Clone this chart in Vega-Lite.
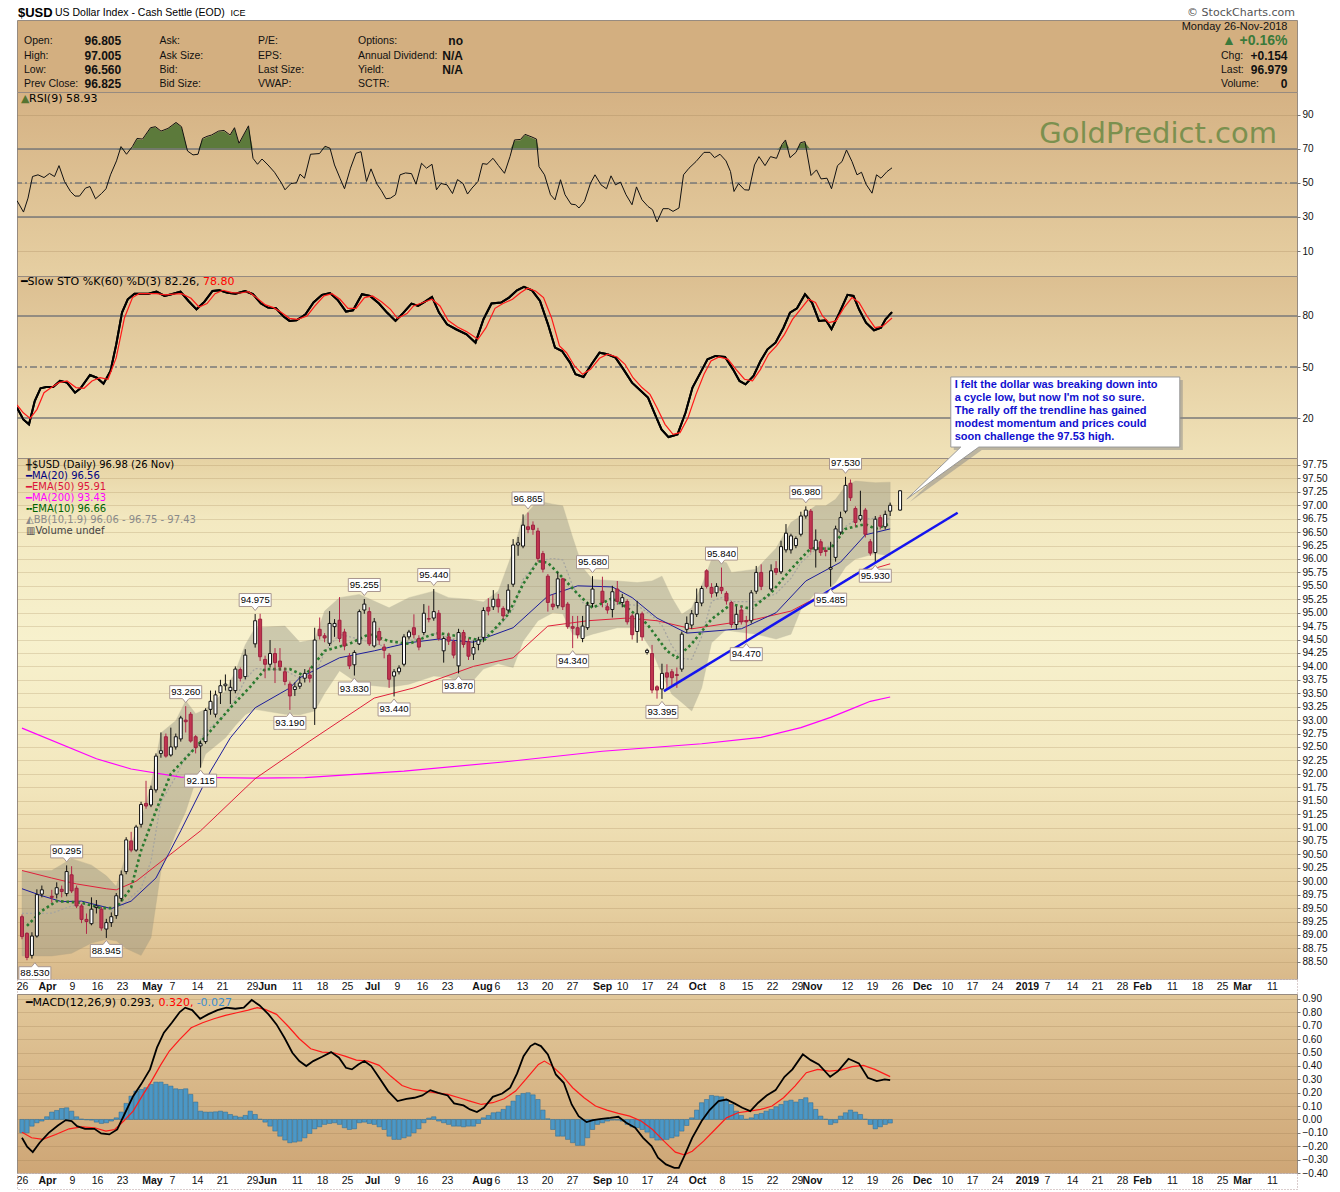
{
  "$schema": "https://vega.github.io/schema/vega-lite/v6.json",
  "background": "white",
  "padding": {"left": 15, "top": 6, "right": 10, "bottom": 2},
  "bounds": "flush",
  "spacing": 0,
  "resolve": {"scale": {"color": "independent"}},
  "config": {
    "view": {"stroke": "#978b80", "strokeWidth": 1},
    "text": {"font": "DejaVu Sans"},
    "axis": {"title": null, "labelFont": "Liberation Sans", "labelFontSize": 10, "labelColor": "#111111"}
  },
  "datasets": {
    "hdr": [
      {"t": -0.8, "row": -1, "text": "$USD", "k": "sym"},
      {"t": 6.6, "row": -1, "text": "US Dollar Index - Cash Settle (EOD)", "k": "name"},
      {"t": 41.7, "row": -1, "text": "ICE", "k": "ex"},
      {"t": 254.6, "row": -1, "text": "© StockCharts.com", "k": "src"},
      {"t": 0.4, "row": 1, "text": "Open:", "k": "lab"},
      {"t": 0.4, "row": 2, "text": "High:", "k": "lab"},
      {"t": 0.4, "row": 3, "text": "Low:", "k": "lab"},
      {"t": 0.4, "row": 4, "text": "Prev Close:", "k": "lab"},
      {"t": 12.5, "row": 1, "text": "96.805", "k": "val"},
      {"t": 12.5, "row": 2, "text": "97.005", "k": "val"},
      {"t": 12.5, "row": 3, "text": "96.560", "k": "val"},
      {"t": 12.5, "row": 4, "text": "96.825", "k": "val"},
      {"t": 27.5, "row": 1, "text": "Ask:", "k": "lab"},
      {"t": 27.5, "row": 2, "text": "Ask Size:", "k": "lab"},
      {"t": 27.5, "row": 3, "text": "Bid:", "k": "lab"},
      {"t": 27.5, "row": 4, "text": "Bid Size:", "k": "lab"},
      {"t": 47.2, "row": 1, "text": "P/E:", "k": "lab"},
      {"t": 47.2, "row": 2, "text": "EPS:", "k": "lab"},
      {"t": 47.2, "row": 3, "text": "Last Size:", "k": "lab"},
      {"t": 47.2, "row": 4, "text": "VWAP:", "k": "lab"},
      {"t": 67.2, "row": 1, "text": "Options:", "k": "lab"},
      {"t": 67.2, "row": 2, "text": "Annual Dividend:", "k": "lab"},
      {"t": 67.2, "row": 3, "text": "Yield:", "k": "lab"},
      {"t": 67.2, "row": 4, "text": "SCTR:", "k": "lab"},
      {"t": 88.2, "row": 1, "text": "no", "k": "rval"},
      {"t": 88.2, "row": 2, "text": "N/A", "k": "rval"},
      {"t": 88.2, "row": 3, "text": "N/A", "k": "rval"},
      {"t": 253.1, "row": 0, "text": "Monday  26-Nov-2018", "k": "rlab"},
      {"t": 253.1, "row": 1, "text": "▲ +0.16%", "k": "chg"},
      {"t": 239.8, "row": 2, "text": "Chg:", "k": "lab"},
      {"t": 239.8, "row": 3, "text": "Last:", "k": "lab"},
      {"t": 239.8, "row": 4, "text": "Volume:", "k": "lab"},
      {"t": 253.1, "row": 2, "text": "+0.154", "k": "rval"},
      {"t": 253.1, "row": 3, "text": "96.979", "k": "rval"},
      {"t": 253.1, "row": 4, "text": "0", "k": "rval"}
    ],
    "plab": [
      {"panel": "rsi", "t": -0.2, "v": 99.4, "text": "▲", "s": "icon"},
      {"panel": "rsi", "t": 1.4, "v": 99.4, "text": "RSI(9) 58.93", "s": "black"},
      {"panel": "sto", "t": -0.2, "v": 100, "text": "━Slow STO %K(60) %D(3) 82.26,", "s": "black"},
      {"panel": "sto", "t": 36.2, "v": 100, "text": "78.80", "s": "red"},
      {"panel": "macd", "t": -0.2, "v": 0.873, "text": "━MACD(12,26,9) 0.293,", "s": "black"},
      {"panel": "macd", "t": 26.5, "v": 0.873, "text": "0.320,", "s": "red"},
      {"panel": "macd", "t": 34.2, "v": 0.873, "text": "-0.027", "s": "blue"}
    ],
    "wm": [{"t": 251, "v": 78.8, "text": "GoldPredict.com"}],
    "rsiLev": [{"v": 70, "s": "solid"}, {"v": 30, "s": "solid"}, {"v": 50, "s": "dash"}],
    "stoLev": [{"v": 80, "s": "solid"}, {"v": 20, "s": "solid"}, {"v": 50, "s": "dash"}],
    "rsi": [
      {"t":-1,"v":39.6},{"t":0.3,"v":32.9},{"t":1.2,"v":41.1},{"t":2.1,"v":53.8},{"t":3.2,"v":54.8},{"t":4.4,"v":53.2},{"t":5.5,"v":55.6},{"t":6.5,"v":53.8},{"t":7.4,"v":60.2},{"t":8.5,"v":50.9},{"t":9.7,"v":45.0},{"t":10.6,"v":42.3},{"t":11.5,"v":42.3},{"t":12.7,"v":47.0},{"t":13.6,"v":47.9},{"t":14.7,"v":40.7},{"t":15.9,"v":43.8},{"t":16.8,"v":46.6},{"t":17.7,"v":54.8},{"t":18.9,"v":63.0},{"t":19.8,"v":71.4},{"t":20.9,"v":66.9},{"t":22.1,"v":71.5},{"t":23.0,"v":76.2},{"t":24.1,"v":75.8},{"t":25.7,"v":82.5},{"t":26.7,"v":83.1},{"t":27.8,"v":80.5},{"t":29.2,"v":82.1},{"t":30.8,"v":85.6},{"t":31.9,"v":83.1},{"t":33.1,"v":68.8},{"t":34.2,"v":66.5},{"t":35.2,"v":66.9},{"t":36.1,"v":76.2},{"t":37.0,"v":77.4},{"t":37.9,"v":78.2},{"t":39.3,"v":80.5},{"t":40.4,"v":80.9},{"t":41.6,"v":78.2},{"t":42.5,"v":82.5},{"t":43.4,"v":73.3},{"t":44.3,"v":78.2},{"t":45.3,"v":83.6},{"t":46.2,"v":64.5},{"t":47.1,"v":61.0},{"t":48.0,"v":64.1},{"t":49.2,"v":60.6},{"t":50.5,"v":56.3},{"t":51.9,"v":49.9},{"t":52.6,"v":46.0},{"t":53.8,"v":49.7},{"t":54.9,"v":50.1},{"t":55.6,"v":55.2},{"t":56.5,"v":52.8},{"t":57.7,"v":66.9},{"t":59.5,"v":67.3},{"t":60.6,"v":71.6},{"t":61.6,"v":70.4},{"t":62.5,"v":60.6},{"t":63.6,"v":52.8},{"t":64.5,"v":46.6},{"t":65.7,"v":58.7},{"t":66.8,"v":67.5},{"t":67.8,"v":68.4},{"t":68.9,"v":50.9},{"t":69.8,"v":58.3},{"t":71.0,"v":49.3},{"t":71.9,"v":45.4},{"t":72.8,"v":40.7},{"t":73.7,"v":41.1},{"t":74.7,"v":43.1},{"t":75.6,"v":54.8},{"t":76.7,"v":55.9},{"t":77.9,"v":55.5},{"t":78.8,"v":49.3},{"t":79.9,"v":61.6},{"t":80.9,"v":58.7},{"t":82.0,"v":61.0},{"t":82.9,"v":46.0},{"t":83.8,"v":49.7},{"t":85.0,"v":48.9},{"t":86.1,"v":43.8},{"t":87.1,"v":52.0},{"t":88.2,"v":49.7},{"t":89.1,"v":43.5},{"t":90.0,"v":47.0},{"t":91.2,"v":50.9},{"t":92.1,"v":61.4},{"t":93.0,"v":61.0},{"t":94.2,"v":64.5},{"t":95.3,"v":60.2},{"t":96.5,"v":55.7},{"t":97.6,"v":65.5},{"t":98.5,"v":75.3},{"t":99.7,"v":75.6},{"t":100.6,"v":78.6},{"t":102.0,"v":77.0},{"t":102.9,"v":75.8},{"t":103.4,"v":59.6},{"t":104.5,"v":54.8},{"t":105.7,"v":43.1},{"t":106.6,"v":40.1},{"t":107.7,"v":51.9},{"t":108.6,"v":43.1},{"t":109.8,"v":37.6},{"t":110.7,"v":37.2},{"t":111.4,"v":35.3},{"t":112.5,"v":39.2},{"t":113.7,"v":49.9},{"t":114.6,"v":54.8},{"t":115.8,"v":48.9},{"t":116.9,"v":46.6},{"t":117.8,"v":54.2},{"t":118.7,"v":48.9},{"t":119.7,"v":50.5},{"t":120.8,"v":43.1},{"t":122.0,"v":37.2},{"t":122.9,"v":47.7},{"t":124.0,"v":40.1},{"t":125.2,"v":36.2},{"t":126.1,"v":34.3},{"t":127.0,"v":27.1},{"t":128.2,"v":34.9},{"t":129.3,"v":34.9},{"t":130.2,"v":33.3},{"t":131.4,"v":35.3},{"t":132.3,"v":54.8},{"t":133.4,"v":58.7},{"t":134.8,"v":62.6},{"t":136.4,"v":68.0},{"t":137.6,"v":68.0},{"t":138.5,"v":64.9},{"t":139.6,"v":66.9},{"t":140.8,"v":63.0},{"t":141.7,"v":56.7},{"t":142.4,"v":45.0},{"t":143.3,"v":49.7},{"t":144.5,"v":46.0},{"t":145.4,"v":45.8},{"t":146.5,"v":60.6},{"t":147.4,"v":65.5},{"t":148.6,"v":60.2},{"t":149.7,"v":65.5},{"t":150.9,"v":64.5},{"t":152.0,"v":72.7},{"t":152.7,"v":75.3},{"t":153.6,"v":64.9},{"t":154.8,"v":68.0},{"t":155.7,"v":73.7},{"t":156.6,"v":74.3},{"t":157.8,"v":54.4},{"t":158.9,"v":57.7},{"t":159.8,"v":52.4},{"t":161.0,"v":52.8},{"t":161.9,"v":46.6},{"t":163.1,"v":60.2},{"t":164.0,"v":62.6},{"t":164.9,"v":69.4},{"t":166.0,"v":62.6},{"t":167.0,"v":54.8},{"t":167.9,"v":56.3},{"t":168.8,"v":49.3},{"t":170.0,"v":44.0},{"t":170.9,"v":54.8},{"t":171.8,"v":52.8},{"t":173.0,"v":56.7},{"t":174.0,"v":58.9}
    ],
    "stoK": [
      {"t":-1,"v":26.1},{"t":0.26,"v":19.2},{"t":1.4,"v":16.3},{"t":2.55,"v":30.0},{"t":3.7,"v":37.5},{"t":4.85,"v":38.2},{"t":6.23,"v":38.2},{"t":7.6,"v":41.8},{"t":9.0,"v":40.8},{"t":10.6,"v":34.9},{"t":11.7,"v":37.5},{"t":13.6,"v":45.3},{"t":14.95,"v":43.7},{"t":16.3,"v":40.2},{"t":17.7,"v":47.7},{"t":18.85,"v":63.3},{"t":20.0,"v":82.0},{"t":21.15,"v":89.8},{"t":22.5,"v":93.1},{"t":23.9,"v":93.1},{"t":25.3,"v":93.1},{"t":26.9,"v":94.3},{"t":28.5,"v":91.8},{"t":29.9,"v":92.8},{"t":31.7,"v":94.3},{"t":33.3,"v":88.8},{"t":34.9,"v":83.9},{"t":36.5,"v":88.4},{"t":38.1,"v":94.7},{"t":39.5,"v":95.1},{"t":41.1,"v":93.7},{"t":42.7,"v":93.1},{"t":44.6,"v":94.7},{"t":46.2,"v":92.8},{"t":47.8,"v":87.3},{"t":49.2,"v":84.9},{"t":50.8,"v":84.5},{"t":52.2,"v":80.0},{"t":53.5,"v":77.1},{"t":54.9,"v":77.5},{"t":56.7,"v":81.0},{"t":58.3,"v":87.9},{"t":60.0,"v":92.4},{"t":61.6,"v":93.5},{"t":63.2,"v":89.2},{"t":64.8,"v":82.6},{"t":66.2,"v":83.3},{"t":68.0,"v":92.8},{"t":69.6,"v":91.8},{"t":71.4,"v":87.3},{"t":73.0,"v":82.0},{"t":74.7,"v":77.1},{"t":76.3,"v":82.0},{"t":77.9,"v":87.3},{"t":79.2,"v":85.9},{"t":80.6,"v":88.4},{"t":82.0,"v":91.2},{"t":83.4,"v":82.0},{"t":85.0,"v":75.1},{"t":86.8,"v":72.2},{"t":88.9,"v":69.2},{"t":90.7,"v":64.3},{"t":92.3,"v":78.1},{"t":93.9,"v":87.3},{"t":95.8,"v":87.9},{"t":97.4,"v":90.8},{"t":99.0,"v":95.1},{"t":100.4,"v":97.1},{"t":102.0,"v":95.1},{"t":103.6,"v":88.8},{"t":105.2,"v":75.1},{"t":106.6,"v":61.4},{"t":108.0,"v":59.4},{"t":109.6,"v":52.6},{"t":110.7,"v":45.7},{"t":112.3,"v":44.1},{"t":113.9,"v":51.6},{"t":115.5,"v":58.4},{"t":117.1,"v":57.5},{"t":118.7,"v":55.5},{"t":120.3,"v":48.6},{"t":122.0,"v":40.8},{"t":123.8,"v":35.9},{"t":125.2,"v":32.0},{"t":126.6,"v":22.2},{"t":127.9,"v":13.3},{"t":129.3,"v":8.8},{"t":131.1,"v":10.4},{"t":132.7,"v":23.1},{"t":134.1,"v":37.9},{"t":135.7,"v":46.7},{"t":137.1,"v":54.5},{"t":138.7,"v":56.5},{"t":140.6,"v":55.9},{"t":142.2,"v":48.6},{"t":143.5,"v":41.8},{"t":144.7,"v":39.8},{"t":146.3,"v":44.7},{"t":147.7,"v":53.5},{"t":149.1,"v":60.4},{"t":150.7,"v":64.3},{"t":152.3,"v":73.1},{"t":153.6,"v":82.0},{"t":155.0,"v":84.5},{"t":156.6,"v":92.8},{"t":158.0,"v":87.9},{"t":159.4,"v":77.1},{"t":160.8,"v":77.5},{"t":161.9,"v":72.2},{"t":163.5,"v":82.0},{"t":165.1,"v":92.4},{"t":166.3,"v":91.8},{"t":167.4,"v":83.9},{"t":168.8,"v":76.1},{"t":170.4,"v":71.6},{"t":171.8,"v":73.1},{"t":172.7,"v":78.0},{"t":174.0,"v":82.3}
    ],
    "stoD": [
      {"t":-1,"v":27.7},{"t":0.26,"v":23.1},{"t":1.63,"v":19.8},{"t":3.0,"v":25.1},{"t":4.4,"v":34.9},{"t":6.0,"v":38.2},{"t":7.4,"v":40.8},{"t":9.0,"v":41.8},{"t":10.8,"v":37.9},{"t":12.4,"v":37.5},{"t":14.0,"v":41.8},{"t":15.6,"v":43.7},{"t":17.2,"v":42.8},{"t":18.85,"v":55.5},{"t":20.5,"v":79.0},{"t":22.1,"v":90.8},{"t":23.4,"v":93.1},{"t":25.3,"v":93.1},{"t":26.9,"v":93.1},{"t":28.7,"v":92.4},{"t":30.3,"v":92.8},{"t":31.9,"v":93.1},{"t":33.8,"v":90.4},{"t":35.4,"v":85.3},{"t":37.0,"v":87.3},{"t":38.6,"v":93.1},{"t":40.2,"v":95.1},{"t":42.0,"v":93.7},{"t":43.7,"v":93.5},{"t":45.3,"v":94.3},{"t":46.9,"v":90.8},{"t":48.7,"v":86.5},{"t":50.3,"v":84.9},{"t":51.9,"v":82.0},{"t":53.5,"v":78.6},{"t":55.1,"v":78.0},{"t":57.0,"v":80.0},{"t":58.6,"v":85.9},{"t":60.4,"v":91.8},{"t":62.0,"v":93.1},{"t":63.6,"v":89.8},{"t":65.2,"v":84.5},{"t":66.8,"v":84.5},{"t":68.5,"v":90.8},{"t":70.1,"v":91.8},{"t":71.9,"v":88.4},{"t":73.7,"v":83.9},{"t":75.1,"v":78.6},{"t":77.0,"v":81.4},{"t":78.3,"v":85.9},{"t":80.2,"v":87.9},{"t":82.0,"v":89.8},{"t":83.6,"v":85.9},{"t":85.2,"v":77.5},{"t":87.1,"v":73.5},{"t":88.9,"v":70.8},{"t":91.2,"v":66.3},{"t":92.8,"v":73.1},{"t":94.6,"v":84.5},{"t":96.2,"v":87.3},{"t":98.1,"v":89.8},{"t":99.7,"v":93.7},{"t":101.1,"v":96.3},{"t":102.7,"v":94.7},{"t":104.3,"v":90.8},{"t":105.9,"v":79.0},{"t":107.5,"v":62.4},{"t":108.9,"v":58.4},{"t":110.5,"v":50.6},{"t":112.1,"v":45.7},{"t":113.7,"v":48.6},{"t":115.5,"v":55.1},{"t":117.1,"v":57.5},{"t":119.0,"v":55.9},{"t":120.6,"v":51.6},{"t":122.2,"v":43.7},{"t":124.0,"v":37.9},{"t":125.6,"v":33.9},{"t":127.0,"v":26.1},{"t":128.6,"v":16.3},{"t":130.2,"v":10.4},{"t":131.6,"v":11.4},{"t":133.2,"v":20.2},{"t":134.8,"v":33.9},{"t":136.4,"v":45.7},{"t":137.8,"v":53.5},{"t":139.4,"v":55.9},{"t":141.2,"v":54.5},{"t":142.8,"v":48.6},{"t":144.5,"v":42.8},{"t":146.1,"v":41.8},{"t":147.7,"v":48.6},{"t":149.3,"v":57.5},{"t":150.9,"v":62.4},{"t":152.5,"v":69.2},{"t":154.1,"v":78.0},{"t":155.7,"v":83.9},{"t":157.3,"v":89.8},{"t":158.7,"v":87.9},{"t":160.1,"v":80.0},{"t":161.4,"v":76.1},{"t":162.8,"v":77.1},{"t":164.4,"v":84.9},{"t":166.0,"v":90.8},{"t":167.4,"v":87.9},{"t":169.0,"v":80.0},{"t":170.6,"v":73.1},{"t":172.2,"v":74.1},{"t":174.0,"v":78.8}
    ],
    "macd": [
      {"t":-1,"v":-0.137},{"t":0.03,"v":-0.204},{"t":1.17,"v":-0.244},{"t":2.55,"v":-0.174},{"t":4.39,"v":-0.100},{"t":6.23,"v":-0.045},{"t":7.83,"v":-0.005},{"t":9.0,"v":-0.012},{"t":10.1,"v":-0.050},{"t":11.7,"v":-0.070},{"t":13.6,"v":-0.070},{"t":14.95,"v":-0.105},{"t":16.6,"v":-0.112},{"t":18.2,"v":-0.075},{"t":19.8,"v":0.050},{"t":21.4,"v":0.174},{"t":23.0,"v":0.262},{"t":24.8,"v":0.374},{"t":26.2,"v":0.536},{"t":27.6,"v":0.648},{"t":29.2,"v":0.722},{"t":30.8,"v":0.802},{"t":31.9,"v":0.835},{"t":33.3,"v":0.817},{"t":34.9,"v":0.752},{"t":36.5,"v":0.785},{"t":38.4,"v":0.817},{"t":40.2,"v":0.835},{"t":42.0,"v":0.827},{"t":43.7,"v":0.835},{"t":45.3,"v":0.892},{"t":46.9,"v":0.852},{"t":48.7,"v":0.785},{"t":50.3,"v":0.710},{"t":51.9,"v":0.610},{"t":53.5,"v":0.498},{"t":54.9,"v":0.436},{"t":56.3,"v":0.399},{"t":57.7,"v":0.436},{"t":59.5,"v":0.468},{"t":61.3,"v":0.503},{"t":62.9,"v":0.461},{"t":64.3,"v":0.386},{"t":65.5,"v":0.374},{"t":66.8,"v":0.411},{"t":68.0,"v":0.436},{"t":69.4,"v":0.399},{"t":71.0,"v":0.311},{"t":72.8,"v":0.212},{"t":74.7,"v":0.137},{"t":76.5,"v":0.154},{"t":78.1,"v":0.162},{"t":79.7,"v":0.179},{"t":81.3,"v":0.219},{"t":82.9,"v":0.199},{"t":84.8,"v":0.179},{"t":86.1,"v":0.120},{"t":88.0,"v":0.105},{"t":89.3,"v":0.075},{"t":90.7,"v":0.055},{"t":92.1,"v":0.087},{"t":93.9,"v":0.169},{"t":95.8,"v":0.194},{"t":97.4,"v":0.237},{"t":98.8,"v":0.344},{"t":100.1,"v":0.473},{"t":101.5,"v":0.548},{"t":102.4,"v":0.568},{"t":103.6,"v":0.548},{"t":105.0,"v":0.486},{"t":106.6,"v":0.336},{"t":108.2,"v":0.274},{"t":109.8,"v":0.112},{"t":111.2,"v":0.025},{"t":112.8,"v":-0.020},{"t":114.1,"v":-0.005},{"t":115.8,"v":0.005},{"t":117.6,"v":0.012},{"t":119.2,"v":0.020},{"t":120.8,"v":-0.025},{"t":122.6,"v":-0.062},{"t":124.2,"v":-0.137},{"t":125.9,"v":-0.199},{"t":127.2,"v":-0.286},{"t":128.8,"v":-0.336},{"t":130.5,"v":-0.361},{"t":131.4,"v":-0.361},{"t":132.5,"v":-0.274},{"t":134.1,"v":-0.137},{"t":136.0,"v":-0.012},{"t":137.6,"v":0.070},{"t":139.4,"v":0.137},{"t":141.0,"v":0.149},{"t":142.6,"v":0.120},{"t":144.2,"v":0.087},{"t":145.8,"v":0.062},{"t":147.4,"v":0.125},{"t":149.1,"v":0.179},{"t":150.9,"v":0.219},{"t":152.7,"v":0.319},{"t":154.3,"v":0.374},{"t":156.4,"v":0.486},{"t":158.0,"v":0.443},{"t":159.6,"v":0.411},{"t":161.9,"v":0.319},{"t":163.5,"v":0.361},{"t":165.6,"v":0.453},{"t":167.7,"v":0.419},{"t":169.5,"v":0.311},{"t":171.3,"v":0.286},{"t":172.9,"v":0.299},{"t":174.0,"v":0.293}
    ],
    "sig": [
      {"t":-1,"v":-0.095},{"t":0.94,"v":-0.137},{"t":3.2,"v":-0.149},{"t":5.8,"v":-0.112},{"t":8.5,"v":-0.070},{"t":11.05,"v":-0.055},{"t":13.6,"v":-0.062},{"t":15.9,"v":-0.087},{"t":17.7,"v":-0.075},{"t":19.5,"v":-0.012},{"t":21.4,"v":0.062},{"t":23.2,"v":0.174},{"t":25.1,"v":0.286},{"t":26.9,"v":0.404},{"t":28.7,"v":0.511},{"t":30.8,"v":0.598},{"t":33.1,"v":0.685},{"t":35.4,"v":0.722},{"t":37.7,"v":0.752},{"t":40.0,"v":0.777},{"t":42.3,"v":0.797},{"t":44.6,"v":0.817},{"t":46.4,"v":0.835},{"t":48.0,"v":0.822},{"t":50.3,"v":0.785},{"t":52.6,"v":0.698},{"t":54.9,"v":0.603},{"t":57.2,"v":0.528},{"t":59.5,"v":0.503},{"t":61.8,"v":0.498},{"t":64.1,"v":0.473},{"t":66.4,"v":0.443},{"t":68.7,"v":0.436},{"t":71.0,"v":0.404},{"t":73.3,"v":0.324},{"t":75.6,"v":0.254},{"t":77.9,"v":0.224},{"t":80.2,"v":0.212},{"t":82.5,"v":0.199},{"t":84.8,"v":0.187},{"t":87.1,"v":0.162},{"t":89.3,"v":0.137},{"t":91.6,"v":0.112},{"t":93.9,"v":0.125},{"t":96.2,"v":0.154},{"t":98.5,"v":0.212},{"t":100.8,"v":0.311},{"t":103.1,"v":0.411},{"t":104.3,"v":0.436},{"t":105.7,"v":0.404},{"t":107.7,"v":0.336},{"t":110.0,"v":0.237},{"t":112.3,"v":0.162},{"t":114.6,"v":0.100},{"t":116.9,"v":0.070},{"t":119.2,"v":0.045},{"t":121.5,"v":0.025},{"t":123.8,"v":-0.012},{"t":126.1,"v":-0.075},{"t":128.4,"v":-0.162},{"t":130.7,"v":-0.244},{"t":132.5,"v":-0.264},{"t":134.1,"v":-0.237},{"t":136.4,"v":-0.162},{"t":138.7,"v":-0.075},{"t":141.0,"v":0.012},{"t":143.3,"v":0.050},{"t":145.6,"v":0.062},{"t":147.9,"v":0.075},{"t":150.2,"v":0.100},{"t":152.5,"v":0.162},{"t":154.8,"v":0.249},{"t":157.1,"v":0.349},{"t":159.4,"v":0.374},{"t":161.7,"v":0.361},{"t":164.0,"v":0.369},{"t":166.3,"v":0.394},{"t":168.6,"v":0.404},{"t":170.9,"v":0.374},{"t":174.0,"v":0.320}
    ],
    "hist": [
      {"t":-1,"v":-0.100},{"t":0,"v":-0.100},{"t":1,"v":-0.050},{"t":2,"v":-0.025},{"t":3,"v":-0.012},{"t":4,"v":0.020},{"t":5,"v":0.055},{"t":6,"v":0.067},{"t":7,"v":0.082},{"t":8,"v":0.087},{"t":9,"v":0.062},{"t":10,"v":0.020},{"t":11,"v":0.003},{"t":12,"v":-0.003},{"t":13,"v":-0.005},{"t":14,"v":-0.020},{"t":15,"v":-0.030},{"t":16,"v":-0.025},{"t":17,"v":-0.012},{"t":18,"v":0.012},{"t":19,"v":0.055},{"t":20,"v":0.120},{"t":21,"v":0.174},{"t":22,"v":0.212},{"t":23,"v":0.224},{"t":24,"v":0.237},{"t":25,"v":0.262},{"t":26,"v":0.279},{"t":27,"v":0.279},{"t":28,"v":0.262},{"t":29,"v":0.249},{"t":30,"v":0.229},{"t":31,"v":0.224},{"t":32,"v":0.229},{"t":33,"v":0.187},{"t":34,"v":0.130},{"t":35,"v":0.062},{"t":36,"v":0.055},{"t":37,"v":0.055},{"t":38,"v":0.057},{"t":39,"v":0.062},{"t":40,"v":0.055},{"t":41,"v":0.037},{"t":42,"v":0.025},{"t":43,"v":0.017},{"t":44,"v":0.030},{"t":45,"v":0.062},{"t":46,"v":0.037},{"t":47,"v":0.002},{"t":48,"v":-0.020},{"t":49,"v":-0.050},{"t":50,"v":-0.087},{"t":51,"v":-0.125},{"t":52,"v":-0.154},{"t":53,"v":-0.174},{"t":54,"v":-0.169},{"t":55,"v":-0.162},{"t":56,"v":-0.137},{"t":57,"v":-0.105},{"t":58,"v":-0.070},{"t":59,"v":-0.055},{"t":60,"v":-0.037},{"t":61,"v":-0.030},{"t":62,"v":-0.025},{"t":63,"v":-0.037},{"t":64,"v":-0.062},{"t":65,"v":-0.075},{"t":66,"v":-0.070},{"t":67,"v":-0.025},{"t":68,"v":-0.020},{"t":69,"v":-0.030},{"t":70,"v":-0.037},{"t":71,"v":-0.055},{"t":72,"v":-0.075},{"t":73,"v":-0.125},{"t":74,"v":-0.149},{"t":75,"v":-0.149},{"t":76,"v":-0.137},{"t":77,"v":-0.125},{"t":78,"v":-0.100},{"t":79,"v":-0.070},{"t":80,"v":-0.025},{"t":81,"v":0.010},{"t":82,"v":0.020},{"t":83,"v":-0.012},{"t":84,"v":-0.025},{"t":85,"v":-0.037},{"t":86,"v":-0.050},{"t":87,"v":-0.050},{"t":88,"v":-0.055},{"t":89,"v":-0.050},{"t":90,"v":-0.050},{"t":91,"v":-0.030},{"t":92,"v":0.012},{"t":93,"v":0.030},{"t":94,"v":0.050},{"t":95,"v":0.055},{"t":96,"v":0.075},{"t":97,"v":0.100},{"t":98,"v":0.137},{"t":99,"v":0.179},{"t":100,"v":0.194},{"t":101,"v":0.199},{"t":102,"v":0.184},{"t":103,"v":0.149},{"t":104,"v":0.070},{"t":105,"v":0.005},{"t":106,"v":-0.075},{"t":107,"v":-0.125},{"t":108,"v":-0.125},{"t":109,"v":-0.149},{"t":110,"v":-0.174},{"t":111,"v":-0.194},{"t":112,"v":-0.194},{"t":113,"v":-0.137},{"t":114,"v":-0.075},{"t":115,"v":-0.037},{"t":116,"v":-0.025},{"t":117,"v":-0.012},{"t":118,"v":-0.005},{"t":119,"v":-0.005},{"t":120,"v":-0.012},{"t":121,"v":-0.037},{"t":122,"v":-0.055},{"t":123,"v":-0.062},{"t":124,"v":-0.075},{"t":125,"v":-0.095},{"t":126,"v":-0.137},{"t":127,"v":-0.154},{"t":128,"v":-0.154},{"t":129,"v":-0.149},{"t":130,"v":-0.137},{"t":131,"v":-0.125},{"t":132,"v":-0.087},{"t":133,"v":-0.045},{"t":134,"v":0.012},{"t":135,"v":0.070},{"t":136,"v":0.125},{"t":137,"v":0.149},{"t":138,"v":0.179},{"t":139,"v":0.174},{"t":140,"v":0.169},{"t":141,"v":0.149},{"t":142,"v":0.112},{"t":143,"v":0.062},{"t":144,"v":0.030},{"t":145,"v":0.002},{"t":146,"v":0.012},{"t":147,"v":0.037},{"t":148,"v":0.045},{"t":149,"v":0.062},{"t":150,"v":0.075},{"t":151,"v":0.095},{"t":152,"v":0.112},{"t":153,"v":0.137},{"t":154,"v":0.144},{"t":155,"v":0.130},{"t":156,"v":0.149},{"t":157,"v":0.162},{"t":158,"v":0.125},{"t":159,"v":0.075},{"t":160,"v":0.025},{"t":161,"v":0.002},{"t":162,"v":-0.037},{"t":163,"v":-0.025},{"t":164,"v":0.025},{"t":165,"v":0.050},{"t":166,"v":0.070},{"t":167,"v":0.055},{"t":168,"v":0.037},{"t":169,"v":0.002},{"t":170,"v":-0.037},{"t":171,"v":-0.070},{"t":172,"v":-0.055},{"t":173,"v":-0.037},{"t":174,"v":-0.027}
    ],
    "px": [
      {"t":-1,"o":89.34,"h":89.38,"l":88.92,"c":88.97},{"t":0,"o":89.03,"h":89.05,"l":88.53,"c":88.58},{"t":1,"o":88.62,"h":89.05,"l":88.56,"c":88.98},{"t":2,"o":88.98,"h":89.85,"l":88.95,"c":89.75},{"t":3,"o":89.76,"h":89.92,"l":89.70,"c":89.84},
      {"t":5,"o":89.72,"h":89.84,"l":89.60,"c":89.70},{"t":6,"o":89.76,"h":89.98,"l":89.68,"c":89.88},{"t":7,"o":89.85,"h":89.92,"l":89.70,"c":89.81},{"t":8,"o":89.77,"h":90.295,"l":89.72,"c":90.18},{"t":9,"o":90.12,"h":90.28,"l":89.78,"c":89.82},
      {"t":10,"o":89.87,"h":89.92,"l":89.50,"c":89.54},{"t":11,"o":89.54,"h":89.58,"l":89.22,"c":89.29},{"t":12,"o":89.29,"h":89.40,"l":89.02,"c":89.25},{"t":13,"o":89.21,"h":89.70,"l":89.18,"c":89.48},{"t":14,"o":89.51,"h":89.65,"l":89.40,"c":89.54},
      {"t":15,"o":89.48,"h":89.52,"l":89.08,"c":89.13},{"t":16,"o":89.11,"h":89.30,"l":88.945,"c":89.23},{"t":17,"o":89.23,"h":89.42,"l":89.15,"c":89.34},{"t":18,"o":89.36,"h":89.78,"l":89.30,"c":89.73},{"t":19,"o":89.68,"h":90.20,"l":89.62,"c":90.12},
      {"t":20,"o":90.18,"h":90.82,"l":90.13,"c":90.77},{"t":21,"o":90.75,"h":90.92,"l":90.54,"c":90.58},{"t":22,"o":90.58,"h":91.05,"l":90.55,"c":91.01},{"t":23,"o":91.06,"h":91.48,"l":91.00,"c":91.43},{"t":24,"o":91.45,"h":91.87,"l":91.35,"c":91.40},
      {"t":25,"o":91.42,"h":91.78,"l":91.38,"c":91.71},{"t":26,"o":91.70,"h":92.38,"l":91.65,"c":92.33},{"t":27,"o":92.38,"h":92.77,"l":92.30,"c":92.43},{"t":28,"o":92.69,"h":92.75,"l":92.30,"c":92.33},{"t":29,"o":92.35,"h":92.86,"l":92.32,"c":92.50},
      {"t":30,"o":92.50,"h":92.75,"l":92.45,"c":92.69},{"t":31,"o":92.65,"h":93.08,"l":92.60,"c":93.04},{"t":32,"o":93.00,"h":93.26,"l":92.77,"c":92.97},{"t":33,"o":93.11,"h":93.15,"l":92.58,"c":92.61},{"t":34,"o":92.69,"h":92.72,"l":92.38,"c":92.49},
      {"t":35,"o":92.52,"h":92.62,"l":92.115,"c":92.56},{"t":36,"o":92.60,"h":93.22,"l":92.56,"c":93.18},{"t":37,"o":93.20,"h":93.55,"l":93.10,"c":93.35},{"t":38,"o":93.11,"h":93.55,"l":93.05,"c":93.47},{"t":39,"o":93.51,"h":93.75,"l":93.30,"c":93.64},
      {"t":40,"o":93.64,"h":93.85,"l":93.55,"c":93.67},{"t":41,"o":93.55,"h":93.75,"l":93.30,"c":93.61},{"t":42,"o":93.55,"h":94.00,"l":93.50,"c":93.95},{"t":43,"o":93.94,"h":93.98,"l":93.72,"c":93.78},{"t":44,"o":93.81,"h":94.32,"l":93.76,"c":94.21},
      {"t":46,"o":94.42,"h":94.975,"l":94.35,"c":94.85},{"t":47,"o":94.88,"h":94.98,"l":94.10,"c":94.18},{"t":48,"o":94.13,"h":94.20,"l":93.78,"c":94.04},{"t":49,"o":94.04,"h":94.49,"l":93.98,"c":94.24},
      {"t":50,"o":94.24,"h":94.34,"l":93.69,"c":94.07},{"t":51,"o":94.10,"h":94.34,"l":93.92,"c":93.99},{"t":52,"o":93.90,"h":93.98,"l":93.65,"c":93.72},{"t":53,"o":93.67,"h":93.72,"l":93.19,"c":93.45},{"t":54,"o":93.57,"h":93.70,"l":93.45,"c":93.62},
      {"t":55,"o":93.63,"h":93.82,"l":93.58,"c":93.69},{"t":56,"o":93.78,"h":93.95,"l":93.70,"c":93.87},{"t":57,"o":93.84,"h":93.98,"l":93.70,"c":93.78},{"t":58,"o":93.22,"h":94.72,"l":92.91,"c":94.49},{"t":59,"o":94.69,"h":94.91,"l":94.50,"c":94.57},
      {"t":60,"o":94.57,"h":94.62,"l":94.45,"c":94.53},{"t":61,"o":94.43,"h":95.03,"l":94.38,"c":94.80},{"t":62,"o":94.74,"h":94.88,"l":94.55,"c":94.80},{"t":63,"o":94.86,"h":95.29,"l":94.45,"c":94.52},{"t":64,"o":94.64,"h":94.70,"l":94.30,"c":94.38},
      {"t":65,"o":94.19,"h":94.25,"l":93.95,"c":94.01},{"t":66,"o":94.03,"h":94.30,"l":93.83,"c":94.26},{"t":67,"o":94.42,"h":95.06,"l":94.40,"c":95.02},{"t":68,"o":95.05,"h":95.255,"l":94.98,"c":95.16},{"t":69,"o":95.02,"h":95.10,"l":94.38,"c":94.42},
      {"t":70,"o":94.38,"h":94.90,"l":94.35,"c":94.83},{"t":71,"o":94.65,"h":94.72,"l":94.40,"c":94.49},{"t":72,"o":94.36,"h":94.42,"l":94.15,"c":94.30},{"t":73,"o":94.21,"h":94.25,"l":93.60,"c":93.76},{"t":74,"o":93.82,"h":93.95,"l":93.44,"c":93.90},
      {"t":75,"o":93.90,"h":94.02,"l":93.85,"c":93.97},{"t":76,"o":94.04,"h":94.60,"l":94.00,"c":94.55},{"t":77,"o":94.55,"h":94.68,"l":94.50,"c":94.64},{"t":78,"o":94.72,"h":94.97,"l":94.52,"c":94.59},{"t":79,"o":94.52,"h":94.58,"l":94.30,"c":94.36},
      {"t":80,"o":94.63,"h":95.16,"l":94.58,"c":94.99},{"t":81,"o":94.89,"h":95.13,"l":94.82,"c":94.88},{"t":82,"o":94.90,"h":95.44,"l":94.85,"c":95.02},{"t":83,"o":94.99,"h":95.05,"l":94.48,"c":94.52},{"t":84,"o":94.29,"h":94.56,"l":94.07,"c":94.52},
      {"t":85,"o":94.55,"h":94.63,"l":94.40,"c":94.47},{"t":86,"o":94.46,"h":94.50,"l":94.15,"c":94.21},{"t":87,"o":94.01,"h":94.70,"l":93.87,"c":94.63},{"t":88,"o":94.63,"h":94.68,"l":94.35,"c":94.41},{"t":89,"o":94.46,"h":94.52,"l":94.12,"c":94.19},
      {"t":90,"o":94.23,"h":94.48,"l":94.12,"c":94.35},{"t":91,"o":94.41,"h":94.55,"l":94.30,"c":94.49},{"t":92,"o":94.54,"h":95.10,"l":94.45,"c":95.04},{"t":93,"o":95.10,"h":95.27,"l":94.95,"c":95.03},{"t":94,"o":95.11,"h":95.42,"l":95.05,"c":95.25},
      {"t":95,"o":95.25,"h":95.35,"l":95.00,"c":95.11},{"t":96,"o":95.08,"h":95.12,"l":94.88,"c":94.94},{"t":97,"o":95.05,"h":95.53,"l":94.98,"c":95.42},{"t":98,"o":95.53,"h":96.37,"l":95.48,"c":96.26},{"t":99,"o":96.26,"h":96.41,"l":96.06,"c":96.30},
      {"t":100,"o":96.24,"h":96.83,"l":96.20,"c":96.63},{"t":101,"o":96.60,"h":96.865,"l":96.48,"c":96.55},{"t":102,"o":96.63,"h":96.70,"l":96.45,"c":96.55},{"t":103,"o":96.52,"h":96.58,"l":95.95,"c":96.01},{"t":104,"o":96.10,"h":96.15,"l":95.75,"c":95.81},
      {"t":105,"o":95.68,"h":95.72,"l":95.02,"c":95.19},{"t":106,"o":95.16,"h":95.34,"l":95.05,"c":95.11},{"t":107,"o":95.13,"h":95.75,"l":95.08,"c":95.63},{"t":108,"o":95.63,"h":95.65,"l":95.05,"c":95.11},{"t":109,"o":95.16,"h":95.20,"l":94.70,"c":94.74},
      {"t":110,"o":94.74,"h":94.94,"l":94.34,"c":94.71},{"t":111,"o":94.72,"h":94.94,"l":94.52,"c":94.59},{"t":112,"o":94.52,"h":94.94,"l":94.45,"c":94.75},{"t":113,"o":94.72,"h":95.20,"l":94.68,"c":95.14},{"t":114,"o":95.17,"h":95.68,"l":95.10,"c":95.44},
      {"t":116,"o":95.40,"h":95.67,"l":95.10,"c":95.19},{"t":117,"o":95.11,"h":95.18,"l":94.98,"c":95.05},{"t":118,"o":95.06,"h":95.50,"l":94.91,"c":95.39},{"t":119,"o":95.44,"h":95.59,"l":95.15,"c":95.21},
      {"t":120,"o":95.19,"h":95.35,"l":95.10,"c":95.28},{"t":121,"o":95.21,"h":95.25,"l":94.78,"c":94.83},{"t":122,"o":94.94,"h":94.98,"l":94.50,"c":94.59},{"t":123,"o":94.65,"h":95.22,"l":94.44,"c":94.98},{"t":124,"o":94.98,"h":95.02,"l":94.48,"c":94.55},
      {"t":125,"o":94.26,"h":94.33,"l":94.22,"c":94.30},{"t":126,"o":94.24,"h":94.40,"l":93.50,"c":93.56},{"t":127,"o":93.62,"h":93.65,"l":93.40,"c":93.56},{"t":128,"o":93.58,"h":94.05,"l":93.395,"c":93.87},{"t":129,"o":93.88,"h":94.04,"l":93.60,"c":93.80},
      {"t":130,"o":93.90,"h":93.95,"l":93.65,"c":93.79},{"t":131,"o":93.85,"h":93.98,"l":93.60,"c":93.83},{"t":132,"o":93.95,"h":94.65,"l":93.90,"c":94.60},{"t":133,"o":94.69,"h":94.93,"l":94.62,"c":94.80},{"t":134,"o":94.77,"h":95.05,"l":94.70,"c":94.98},
      {"t":135,"o":94.97,"h":95.45,"l":94.92,"c":95.19},{"t":136,"o":95.18,"h":95.50,"l":95.12,"c":95.45},{"t":137,"o":95.78,"h":95.81,"l":95.45,"c":95.49},{"t":138,"o":95.47,"h":95.55,"l":95.28,"c":95.36},{"t":139,"o":95.37,"h":95.55,"l":95.30,"c":95.49},
      {"t":140,"o":95.47,"h":95.84,"l":95.35,"c":95.41},{"t":141,"o":95.36,"h":95.40,"l":95.15,"c":95.22},{"t":142,"o":95.19,"h":95.22,"l":94.72,"c":94.78},{"t":143,"o":94.78,"h":95.12,"l":94.69,"c":94.97},{"t":144,"o":95.05,"h":95.12,"l":94.78,"c":94.83},
      {"t":145,"o":94.85,"h":94.94,"l":94.47,"c":94.83},{"t":146,"o":94.85,"h":95.42,"l":94.80,"c":95.37},{"t":147,"o":95.40,"h":95.87,"l":95.35,"c":95.75},{"t":148,"o":95.75,"h":95.90,"l":95.42,"c":95.49},
      {"t":150,"o":95.44,"h":95.90,"l":95.40,"c":95.78},{"t":151,"o":95.82,"h":95.96,"l":95.70,"c":95.75},{"t":152,"o":95.76,"h":96.34,"l":95.72,"c":96.23},{"t":153,"o":96.17,"h":96.65,"l":96.12,"c":96.48},{"t":154,"o":96.17,"h":96.47,"l":96.10,"c":96.43},
      {"t":155,"o":96.25,"h":96.42,"l":96.20,"c":96.38},{"t":156,"o":96.46,"h":96.88,"l":96.42,"c":96.80},{"t":157,"o":96.80,"h":96.98,"l":96.75,"c":96.91},{"t":158,"o":96.89,"h":96.93,"l":96.12,"c":96.19},{"t":159,"o":96.17,"h":96.55,"l":95.84,"c":96.35},
      {"t":160,"o":96.32,"h":96.37,"l":96.06,"c":96.12},{"t":161,"o":96.16,"h":96.22,"l":96.05,"c":96.14},{"t":162,"o":95.81,"h":96.32,"l":95.485,"c":95.84},{"t":163,"o":96.03,"h":96.62,"l":95.95,"c":96.56},{"t":164,"o":96.50,"h":96.88,"l":96.45,"c":96.77},
      {"t":165,"o":96.89,"h":97.53,"l":96.85,"c":97.37},{"t":166,"o":97.41,"h":97.48,"l":97.08,"c":97.14},{"t":167,"o":96.94,"h":96.98,"l":96.60,"c":96.68},{"t":168,"o":96.74,"h":97.27,"l":96.70,"c":96.81},{"t":169,"o":96.91,"h":96.95,"l":96.40,"c":96.46},
      {"t":170,"o":96.32,"h":96.37,"l":96.06,"c":96.11},{"t":171,"o":96.12,"h":96.80,"l":95.93,"c":96.74},{"t":172,"o":96.77,"h":96.82,"l":96.55,"c":96.61},{"t":173,"o":96.60,"h":96.90,"l":96.55,"c":96.83},{"t":174,"o":96.89,"h":97.05,"l":96.80,"c":97.00},
      {"t":176,"o":96.91,"h":97.28,"l":96.90,"c":97.27}
    ],
    "ma20": [
      {"t":-1,"v":89.86},{"t":3,"v":89.73},{"t":7,"v":89.62},{"t":11,"v":89.63},{"t":17,"v":89.49},{"t":21,"v":89.63},{"t":26,"v":90.06},{"t":31,"v":90.94},{"t":37,"v":92.05},{"t":41,"v":92.67},{"t":46,"v":93.23},{"t":53,"v":93.6},{"t":55,"v":93.79},{"t":63,"v":94.16},{"t":70,"v":94.29},{"t":77,"v":94.44},{"t":83,"v":94.51},{"t":90,"v":94.45},{"t":98,"v":94.72},{"t":105,"v":95.31},{"t":111,"v":95.5},{"t":118,"v":95.48},{"t":122,"v":95.28},{"t":127,"v":94.9},{"t":133,"v":94.62},{"t":136,"v":94.64},{"t":144,"v":94.7},{"t":151,"v":95.0},{"t":157,"v":95.59},{"t":164,"v":95.94},{"t":169,"v":96.45},{"t":174,"v":96.56}
    ],
    "ema50": [
      {"t":-1,"v":90.2},{"t":5,"v":90.06},{"t":10,"v":89.95},{"t":16,"v":89.86},{"t":18,"v":89.84},{"t":22,"v":90.0},{"t":26,"v":90.29},{"t":35,"v":90.94},{"t":46,"v":91.91},{"t":57,"v":92.61},{"t":70,"v":93.41},{"t":78,"v":93.6},{"t":90,"v":94.0},{"t":98,"v":94.16},{"t":105,"v":94.75},{"t":113,"v":94.85},{"t":121,"v":94.9},{"t":127,"v":94.85},{"t":134,"v":94.7},{"t":147,"v":94.88},{"t":154,"v":95.03},{"t":161,"v":95.37},{"t":167,"v":95.72},{"t":174,"v":95.91}
    ],
    "ma200": [
      {"t":-1,"v":92.85},{"t":14,"v":92.28},{"t":21,"v":92.09},{"t":31,"v":91.94},{"t":46,"v":91.92},{"t":56,"v":91.93},{"t":76,"v":92.05},{"t":96,"v":92.22},{"t":116,"v":92.42},{"t":136,"v":92.56},{"t":148,"v":92.68},{"t":156,"v":92.86},{"t":162,"v":93.05},{"t":166,"v":93.2},{"t":170,"v":93.35},{"t":174,"v":93.43}
    ],
    "ema10": [
      {"t":0,"v":89.17},{"t":3,"v":89.45},{"t":6,"v":89.63},{"t":11,"v":89.6},{"t":15,"v":89.5},{"t":18,"v":89.5},{"t":21,"v":89.88},{"t":23,"v":90.57},{"t":26,"v":91.31},{"t":29,"v":92.0},{"t":33,"v":92.39},{"t":37,"v":92.8},{"t":41,"v":93.23},{"t":45,"v":93.62},{"t":48,"v":93.95},{"t":53,"v":93.95},{"t":56,"v":93.82},{"t":60,"v":94.29},{"t":65,"v":94.42},{"t":69,"v":94.6},{"t":73,"v":94.47},{"t":77,"v":94.42},{"t":81,"v":94.57},{"t":83,"v":94.62},{"t":89,"v":94.53},{"t":92,"v":94.47},{"t":97,"v":94.97},{"t":100,"v":95.53},{"t":103,"v":95.96},{"t":105,"v":95.93},{"t":108,"v":95.65},{"t":111,"v":95.35},{"t":114,"v":95.09},{"t":118,"v":95.27},{"t":121,"v":95.09},{"t":125,"v":94.79},{"t":129,"v":94.29},{"t":131,"v":94.16},{"t":134,"v":94.42},{"t":138,"v":94.88},{"t":142,"v":95.16},{"t":146,"v":95.07},{"t":150,"v":95.37},{"t":154,"v":95.81},{"t":158,"v":96.2},{"t":162,"v":96.19},{"t":165,"v":96.56},{"t":169,"v":96.65},{"t":171,"v":96.56},{"t":174,"v":96.66}
    ],
    "bb": [
      {"t":-1,"u":90.19,"m":89.4,"lo":88.61},{"t":5,"u":90.2,"m":89.405,"lo":88.61},{"t":9,"u":90.42,"m":89.54,"lo":88.66},{"t":13,"u":90.3,"m":89.575,"lo":88.85},{"t":16,"u":90.1,"m":89.51,"lo":88.92},{"t":18,"u":89.9,"m":89.395,"lo":88.89},{"t":20,"u":90.5,"m":89.625,"lo":88.75},{"t":23,"u":91.12,"m":89.87,"lo":88.62},{"t":25,"u":91.8,"m":90.375,"lo":88.95},{"t":27,"u":92.76,"m":91.475,"lo":90.19},{"t":30,"u":92.99,"m":91.945,"lo":90.9},{"t":32,"u":93.36,"m":92.33,"lo":91.3},{"t":34,"u":93.12,"m":92.495,"lo":91.87},{"t":36,"u":93.2,"m":92.785,"lo":92.37},{"t":40,"u":93.54,"m":93.105,"lo":92.67},{"t":42,"u":93.9,"m":93.4,"lo":92.9},{"t":44,"u":94.4,"m":93.75,"lo":93.1},{"t":46,"u":94.72,"m":93.96,"lo":93.2},{"t":52,"u":94.75,"m":93.93,"lo":93.11},{"t":55,"u":94.45,"m":93.775,"lo":93.1},{"t":58,"u":94.5,"m":93.835,"lo":93.17},{"t":60,"u":95.03,"m":94.265,"lo":93.5},{"t":63,"u":95.28,"m":94.6,"lo":93.92},{"t":67,"u":95.34,"m":94.505,"lo":93.67},{"t":73,"u":95.09,"m":94.35,"lo":93.61},{"t":77,"u":95.28,"m":94.475,"lo":93.67},{"t":82,"u":95.4,"m":94.61,"lo":93.82},{"t":85,"u":95.28,"m":94.54,"lo":93.8},{"t":89,"u":95.25,"m":94.445,"lo":93.64},{"t":92,"u":95.2,"m":94.575,"lo":93.95},{"t":95,"u":95.4,"m":94.725,"lo":94.05},{"t":98,"u":96.15,"m":95.065,"lo":93.98},{"t":100,"u":96.77,"m":95.62,"lo":94.47},{"t":103,"u":97.08,"m":95.965,"lo":94.85},{"t":106,"u":97.02,"m":96.01,"lo":95.0},{"t":108,"u":96.99,"m":95.985,"lo":94.98},{"t":110,"u":96.4,"m":95.5,"lo":94.6},{"t":112,"u":95.84,"m":95.19,"lo":94.54},{"t":114,"u":95.62,"m":95.11,"lo":94.6},{"t":119,"u":95.59,"m":95.155,"lo":94.72},{"t":123,"u":95.56,"m":95.14,"lo":94.72},{"t":126,"u":95.59,"m":94.94,"lo":94.29},{"t":128,"u":95.68,"m":94.765,"lo":93.85},{"t":130,"u":95.28,"m":94.38,"lo":93.48},{"t":132,"u":94.97,"m":94.15,"lo":93.33},{"t":134,"u":95.09,"m":94.13,"lo":93.17},{"t":136,"u":95.5,"m":94.55,"lo":93.6},{"t":138,"u":95.99,"m":95.215,"lo":94.44},{"t":141,"u":95.93,"m":95.31,"lo":94.69},{"t":142,"u":95.75,"m":95.205,"lo":94.66},{"t":147,"u":95.81,"m":95.205,"lo":94.6},{"t":151,"u":96.2,"m":95.355,"lo":94.51},{"t":154,"u":96.68,"m":95.64,"lo":94.6},{"t":156,"u":96.8,"m":95.93,"lo":95.06},{"t":159,"u":96.99,"m":96.18,"lo":95.37},{"t":161,"u":96.99,"m":96.195,"lo":95.4},{"t":163,"u":97.11,"m":96.335,"lo":95.56},{"t":165,"u":97.36,"m":96.605,"lo":95.85},{"t":167,"u":97.45,"m":96.725,"lo":96.0},{"t":171,"u":97.42,"m":96.76,"lo":96.1},{"t":174,"u":97.43,"m":96.745,"lo":96.06}
    ],
    "trend": [{"t": 128.4, "v": 93.54}, {"t": 187.6, "v": 96.86}],
    "ext": [
      {"t":8,"p":90.295,"label":"90.295","side":"hi"},{"t":32,"p":93.26,"label":"93.260","side":"hi"},{"t":46,"p":94.975,"label":"94.975","side":"hi"},{"t":68,"p":95.255,"label":"95.255","side":"hi"},{"t":82,"p":95.44,"label":"95.440","side":"hi"},{"t":101,"p":96.865,"label":"96.865","side":"hi"},{"t":114,"p":95.68,"label":"95.680","side":"hi"},{"t":140,"p":95.84,"label":"95.840","side":"hi"},{"t":157,"p":96.98,"label":"96.980","side":"hi"},{"t":165,"p":97.53,"label":"97.530","side":"hi"},
      {"t":1.6,"p":88.53,"label":"88.530","side":"lo"},{"t":16,"p":88.945,"label":"88.945","side":"lo"},{"t":35,"p":92.115,"label":"92.115","side":"lo"},{"t":53,"p":93.19,"label":"93.190","side":"lo"},{"t":66,"p":93.83,"label":"93.830","side":"lo"},{"t":74,"p":93.44,"label":"93.440","side":"lo"},{"t":87,"p":93.87,"label":"93.870","side":"lo"},{"t":110,"p":94.34,"label":"94.340","side":"lo"},{"t":128,"p":93.395,"label":"93.395","side":"lo"},{"t":145,"p":94.47,"label":"94.470","side":"lo"},{"t":162,"p":95.485,"label":"95.485","side":"lo"},{"t":171,"p":95.93,"label":"95.930","side":"lo"}
    ],
    "leg": [
      {"t":-0.2,"p":97.75,"text":"╫$USD (Daily) 96.98 (26 Nov)","s":"px"},
      {"t":-0.2,"p":97.545,"text":"━MA(20) 96.56","s":"ma20"},
      {"t":-0.2,"p":97.34,"text":"━EMA(50) 95.91","s":"ema50"},
      {"t":-0.2,"p":97.135,"text":"━MA(200) 93.43","s":"ma200"},
      {"t":-0.2,"p":96.93,"text":"╍EMA(10) 96.66","s":"ema10"},
      {"t":-0.2,"p":96.725,"text":"◭BB(10,1.9) 96.06 - 96.75 - 97.43","s":"bb"},
      {"t":-0.2,"p":96.52,"text":"▥Volume undef","s":"vol"}
    ],
    "annBox": [{"t": 209.3, "p": 98.736}],
    "annText": [{"t": 187, "p": 99.35, "lines": ["I felt the dollar was breaking down into", "a cycle low, but now I'm not so sure.", "The rally off the trendline has gained", "modest momentum and prices could", "soon challenge the 97.53 high."]}]
  },
  "vconcat": [
    {
      "width": 1280, "height": 72,
      "view": {"fill": "#d3af80"},
      "data": {"name": "hdr"},
      "encoding": {
        "x": {"field": "t", "type": "quantitative", "scale": {"domain": [-1, 255], "nice": false, "zero": false}, "axis": null},
        "y": {"field": "row", "type": "quantitative", "scale": {"domain": [-0.49, 4.545], "reverse": true, "nice": false, "zero": false}, "axis": null},
        "text": {"field": "text"}
      },
      "layer": [
        {"transform": [{"filter": "datum.k == 'lab'"}], "mark": {"type": "text", "align": "left", "font": "Liberation Sans", "fontSize": 10.5, "color": "#111111"}},
        {"transform": [{"filter": "datum.k == 'val'"}], "mark": {"type": "text", "align": "left", "font": "Liberation Sans", "fontSize": 12, "fontWeight": "bold", "color": "#111111"}},
        {"transform": [{"filter": "datum.k == 'rval'"}], "mark": {"type": "text", "align": "right", "font": "Liberation Sans", "fontSize": 12, "fontWeight": "bold", "color": "#111111"}},
        {"transform": [{"filter": "datum.k == 'rlab'"}], "mark": {"type": "text", "align": "right", "font": "Liberation Sans", "fontSize": 11, "color": "#111111"}},
        {"transform": [{"filter": "datum.k == 'chg'"}], "mark": {"type": "text", "align": "right", "font": "Liberation Sans", "fontSize": 14, "fontWeight": "bold", "color": "#3b7a3b"}},
        {"transform": [{"filter": "datum.k == 'sym'"}], "mark": {"type": "text", "align": "left", "font": "Liberation Sans", "fontSize": 13, "fontWeight": "bold", "color": "#000000"}},
        {"transform": [{"filter": "datum.k == 'name'"}], "mark": {"type": "text", "align": "left", "font": "Liberation Sans", "fontSize": 10.5, "color": "#000000"}},
        {"transform": [{"filter": "datum.k == 'ex'"}], "mark": {"type": "text", "align": "left", "font": "Liberation Sans", "fontSize": 9, "color": "#000000"}},
        {"transform": [{"filter": "datum.k == 'src'"}], "mark": {"type": "text", "align": "right", "font": "DejaVu Sans", "fontSize": 11, "color": "#555555"}}
      ]
    },
    {
      "width": 1280, "height": 184,
      "view": {"fill": {"gradient": "linear", "x1": 0, "y1": 0, "x2": 0, "y2": 1, "stops": [{"offset": 0, "color": "#d5b284"}, {"offset": 1, "color": "#e6cfa2"}]}},
      "resolve": {"scale": {"y": "independent"}},
      "layer": [
        {
          "data": {"name": "rsi"},
          "mark": {"type": "area", "color": "#5c7a3b", "opacity": 1, "clip": true},
          "encoding": {
            "x": {"field": "t", "type": "quantitative", "scale": {"domain": [-1, 255], "nice": false, "zero": false},
              "axis": {"values": [0,5,10,15,20,26,30,35,40,46,49,55,60,65,70,75,80,85,92,95,100,105,110,116,120,125,130,135,140,145,150,155,158,165,170,175,180,185,190,195,201,205,210,215,220,224,230,235,240,244,250], "labels": false, "ticks": false, "domain": false, "grid": true,
                "gridColor": {"condition": {"test": "indexof([5,26,49,70,92,116,135,158,180,201,224,244], datum.value) >= 0", "value": "rgba(110,85,50,0.40)"}, "value": "rgba(140,110,70,0.22)"}}},
            "y": {"field": "v", "type": "quantitative", "scale": {"domain": [70, 103.5], "range": [58, 0], "clamp": true, "nice": false, "zero": false}, "axis": null},
            "y2": {"datum": 70}
          }
        },
        {
          "data": {"name": "rsiLev"},
          "mark": {"type": "rule", "color": "#7a7a7a", "strokeWidth": 1.4},
          "encoding": {
            "y": {"field": "v", "type": "quantitative", "scale": {"domain": [-4.7, 103.5], "nice": false, "zero": false},
              "axis": {"orient": "right", "values": [10, 30, 50, 70, 90], "grid": true, "gridColor": "rgba(140,110,70,0.22)", "ticks": true, "tickSize": 3, "tickColor": "#777777", "domain": false, "labelPadding": 2, "labelOverlap": false}},
            "strokeDash": {"field": "s", "type": "nominal", "scale": {"domain": ["solid", "dash"], "range": [[1, 0], [7, 3, 2, 3]]}, "legend": null}
          }
        },
        {
          "data": {"name": "rsi"},
          "mark": {"type": "line", "color": "#111111", "strokeWidth": 1, "clip": true},
          "encoding": {
            "x": {"field": "t", "type": "quantitative", "axis": null},
            "y": {"field": "v", "type": "quantitative", "scale": {"domain": [-4.7, 103.5], "nice": false, "zero": false}, "axis": null}
          }
        },
        {
          "data": {"name": "wm"},
          "mark": {"type": "text", "align": "right", "font": "DejaVu Sans", "fontSize": 29, "color": "#6b8a45", "opacity": 0.85},
          "encoding": {
            "x": {"field": "t", "type": "quantitative", "axis": null},
            "y": {"field": "v", "type": "quantitative", "scale": {"domain": [-4.7, 103.5], "nice": false, "zero": false}, "axis": null},
            "text": {"field": "text"}
          }
        },
        {
          "data": {"name": "plab"},
          "transform": [{"filter": "datum.panel == 'rsi'"}],
          "mark": {"type": "text", "align": "left", "font": "DejaVu Sans", "fontSize": 11},
          "encoding": {
            "x": {"field": "t", "type": "quantitative", "axis": null},
            "y": {"field": "v", "type": "quantitative", "scale": {"domain": [-4.7, 103.5], "nice": false, "zero": false}, "axis": null},
            "text": {"field": "text"},
            "color": {"field": "s", "type": "nominal", "scale": {"domain": ["black", "red", "blue", "icon"], "range": ["#000000", "#ff0000", "#3d8fd0", "#55742f"]}, "legend": null}
          }
        }
      ]
    },
    {
      "width": 1280, "height": 182,
      "view": {"fill": {"gradient": "linear", "x1": 0, "y1": 0, "x2": 0, "y2": 1, "stops": [{"offset": 0, "color": "#dcbf91"}, {"offset": 1, "color": "#f0e2b8"}]}},
      "resolve": {"scale": {"y": "independent"}},
      "layer": [
        {
          "data": {"name": "stoK"},
          "mark": {"type": "line", "color": "#000000", "strokeWidth": 2, "clip": true},
          "encoding": {
            "x": {"field": "t", "type": "quantitative", "scale": {"domain": [-1, 255], "nice": false, "zero": false},
              "axis": {"values": [0,5,10,15,20,26,30,35,40,46,49,55,60,65,70,75,80,85,92,95,100,105,110,116,120,125,130,135,140,145,150,155,158,165,170,175,180,185,190,195,201,205,210,215,220,224,230,235,240,244,250], "labels": false, "ticks": false, "domain": false, "grid": true,
                "gridColor": {"condition": {"test": "indexof([5,26,49,70,92,116,135,158,180,201,224,244], datum.value) >= 0", "value": "rgba(110,85,50,0.40)"}, "value": "rgba(140,110,70,0.22)"}}},
            "y": {"field": "v", "type": "quantitative", "scale": {"domain": [-3.5, 103.5], "nice": false, "zero": false}, "axis": null}
          }
        },
        {
          "data": {"name": "stoLev"},
          "mark": {"type": "rule", "color": "#7a7a7a", "strokeWidth": 1.4},
          "encoding": {
            "y": {"field": "v", "type": "quantitative", "scale": {"domain": [-3.5, 103.5], "nice": false, "zero": false},
              "axis": {"orient": "right", "values": [20, 50, 80], "grid": false, "ticks": true, "tickSize": 3, "tickColor": "#777777", "domain": false, "labelPadding": 2, "labelOverlap": false}},
            "strokeDash": {"field": "s", "type": "nominal", "scale": {"domain": ["solid", "dash"], "range": [[1, 0], [7, 3, 2, 3]]}, "legend": null}
          }
        },
        {
          "data": {"name": "stoK"},
          "mark": {"type": "line", "color": "#000000", "strokeWidth": 2, "clip": true},
          "encoding": {"x": {"field": "t", "type": "quantitative", "axis": null}, "y": {"field": "v", "type": "quantitative", "scale": {"domain": [-3.5, 103.5], "nice": false, "zero": false}, "axis": null}}
        },
        {
          "data": {"name": "stoD"},
          "mark": {"type": "line", "color": "#ff1a1a", "strokeWidth": 1.2, "clip": true},
          "encoding": {"x": {"field": "t", "type": "quantitative", "axis": null}, "y": {"field": "v", "type": "quantitative", "scale": {"domain": [-3.5, 103.5], "nice": false, "zero": false}, "axis": null}}
        },
        {
          "data": {"name": "plab"},
          "transform": [{"filter": "datum.panel == 'sto'"}],
          "mark": {"type": "text", "align": "left", "font": "DejaVu Sans", "fontSize": 11},
          "encoding": {
            "x": {"field": "t", "type": "quantitative", "axis": null},
            "y": {"field": "v", "type": "quantitative", "scale": {"domain": [-3.5, 103.5], "nice": false, "zero": false}, "axis": null},
            "text": {"field": "text"},
            "color": {"field": "s", "type": "nominal", "scale": {"domain": ["black", "red", "blue", "icon"], "range": ["#000000", "#ff0000", "#3d8fd0", "#55742f"]}, "legend": null}
          }
        }
      ]
    },
    {
      "width": 1280, "height": 521,
      "view": {"fill": {"gradient": "linear", "x1": 0, "y1": 0, "x2": 0, "y2": 1, "stops": [{"offset": 0, "color": "#e6d2a3"}, {"offset": 0.12, "color": "#f3e9c1"}, {"offset": 0.35, "color": "#f7f1cd"}, {"offset": 0.6, "color": "#f3e8bf"}, {"offset": 0.85, "color": "#e7d1a2"}, {"offset": 1, "color": "#d9b98a"}]}},
      "resolve": {"scale": {"y": "independent"}},
      "layer": [
        {
          "data": {"name": "bb"},
          "mark": {"type": "area", "color": "#8e8e7e", "opacity": 0.4, "stroke": "#7c7c6e", "strokeWidth": 0.8, "strokeOpacity": 0.5, "clip": true},
          "encoding": {
            "x": {"field": "t", "type": "quantitative", "scale": {"domain": [-1, 255], "nice": false, "zero": false},
              "axis": {"values": [0,5,10,15,20,26,30,35,40,46,49,55,60,65,70,75,80,85,92,95,100,105,110,116,120,125,130,135,140,145,150,155,158,165,170,175,180,185,190,195,201,205,210,215,220,224,230,235,240,244,250], "labels": false, "ticks": false, "domain": false, "grid": true,
                "gridColor": {"condition": {"test": "indexof([5,26,49,70,92,116,135,158,180,201,224,244], datum.value) >= 0", "value": "rgba(110,85,50,0.40)"}, "value": "rgba(140,110,70,0.22)"}}},
            "y": {"field": "u", "type": "quantitative", "scale": {"domain": [88.18, 97.88], "nice": false, "zero": false}, "axis": null},
            "y2": {"field": "lo"}
          }
        },
        {
          "data": {"name": "bb"},
          "mark": {"type": "line", "color": "#a4a4a0", "strokeWidth": 1.2, "strokeDash": [2, 2], "clip": true},
          "encoding": {"x": {"field": "t", "type": "quantitative", "axis": null}, "y": {"field": "m", "type": "quantitative", "scale": {"domain": [88.18, 97.88], "nice": false, "zero": false}, "axis": null}}
        },
        {
          "data": {"name": "ma200"},
          "mark": {"type": "line", "color": "#ff00ff", "strokeWidth": 1.2, "clip": true},
          "encoding": {"x": {"field": "t", "type": "quantitative", "axis": null}, "y": {"field": "v", "type": "quantitative", "scale": {"domain": [88.18, 97.88], "nice": false, "zero": false}, "axis": null}}
        },
        {
          "data": {"name": "ema50"},
          "mark": {"type": "line", "color": "#e0203c", "strokeWidth": 1, "clip": true},
          "encoding": {"x": {"field": "t", "type": "quantitative", "axis": null}, "y": {"field": "v", "type": "quantitative", "scale": {"domain": [88.18, 97.88], "nice": false, "zero": false}, "axis": null}}
        },
        {
          "data": {"name": "ma20"},
          "mark": {"type": "line", "color": "#1c1c9a", "strokeWidth": 1, "clip": true},
          "encoding": {"x": {"field": "t", "type": "quantitative", "axis": null}, "y": {"field": "v", "type": "quantitative", "scale": {"domain": [88.18, 97.88], "nice": false, "zero": false}, "axis": null}}
        },
        {
          "data": {"name": "ema10"},
          "mark": {"type": "line", "color": "#2b7a30", "strokeWidth": 2.6, "strokeDash": [2.6, 2.8], "clip": true},
          "encoding": {"x": {"field": "t", "type": "quantitative", "axis": null}, "y": {"field": "v", "type": "quantitative", "scale": {"domain": [88.18, 97.88], "nice": false, "zero": false}, "axis": null}}
        },
        {
          "data": {"name": "px"},
          "mark": {"type": "rule", "strokeWidth": 1, "clip": true},
          "encoding": {
            "x": {"field": "t", "type": "quantitative", "axis": null},
            "y": {"field": "l", "type": "quantitative", "scale": {"domain": [88.18, 97.88], "nice": false, "zero": false}, "axis": null},
            "y2": {"field": "h"},
            "color": {"condition": {"test": "datum.c >= datum.o", "value": "#111111"}, "value": "#b3284a"}
          }
        },
        {
          "data": {"name": "px"},
          "mark": {"type": "bar", "size": 3, "strokeWidth": 1, "clip": true},
          "encoding": {
            "x": {"field": "t", "type": "quantitative", "axis": null},
            "y": {"field": "o", "type": "quantitative", "scale": {"domain": [88.18, 97.88], "nice": false, "zero": false}, "axis": null},
            "y2": {"field": "c"},
            "fill": {"condition": {"test": "datum.c >= datum.o", "value": "#ffffff"}, "value": "#c0354f"},
            "stroke": {"condition": {"test": "datum.c >= datum.o", "value": "#111111"}, "value": "#9c2240"}
          }
        },
        {
          "data": {"name": "trend"},
          "mark": {"type": "line", "color": "#1414ee", "strokeWidth": 2.5},
          "encoding": {"x": {"field": "t", "type": "quantitative", "axis": null}, "y": {"field": "v", "type": "quantitative", "scale": {"domain": [88.18, 97.88], "nice": false, "zero": false}, "axis": null}}
        },
        {
          "data": {"name": "ext"},
          "transform": [{"filter": "datum.side == 'hi'"}],
          "mark": {"type": "point", "shape": "M-1,-0.406L1,-0.406L1,0.406L0.2,0.406L0,0.66L-0.2,0.406L-1,0.406Z", "size": 1024, "filled": true, "fill": "#ffffff", "stroke": "#a8968f", "strokeWidth": 1, "opacity": 1, "yOffset": -14, "clip": true},
          "encoding": {"x": {"field": "t", "type": "quantitative", "axis": null}, "y": {"field": "p", "type": "quantitative", "scale": {"domain": [88.18, 97.88], "nice": false, "zero": false}, "axis": null}}
        },
        {
          "data": {"name": "ext"},
          "transform": [{"filter": "datum.side == 'hi'"}],
          "mark": {"type": "text", "font": "Liberation Sans", "fontSize": 9.5, "color": "#000000", "yOffset": -14, "clip": true},
          "encoding": {"x": {"field": "t", "type": "quantitative", "axis": null}, "y": {"field": "p", "type": "quantitative", "scale": {"domain": [88.18, 97.88], "nice": false, "zero": false}, "axis": null}, "text": {"field": "label"}}
        },
        {
          "data": {"name": "ext"},
          "transform": [{"filter": "datum.side == 'lo'"}],
          "mark": {"type": "point", "shape": "M-1,-0.406L-0.2,-0.406L0,-0.66L0.2,-0.406L1,-0.406L1,0.406L-1,0.406Z", "size": 1024, "filled": true, "fill": "#ffffff", "stroke": "#a8968f", "strokeWidth": 1, "opacity": 1, "yOffset": 13, "clip": true},
          "encoding": {"x": {"field": "t", "type": "quantitative", "axis": null}, "y": {"field": "p", "type": "quantitative", "scale": {"domain": [88.18, 97.88], "nice": false, "zero": false}, "axis": null}}
        },
        {
          "data": {"name": "ext"},
          "transform": [{"filter": "datum.side == 'lo'"}],
          "mark": {"type": "text", "font": "Liberation Sans", "fontSize": 9.5, "color": "#000000", "yOffset": 13, "clip": true},
          "encoding": {"x": {"field": "t", "type": "quantitative", "axis": null}, "y": {"field": "p", "type": "quantitative", "scale": {"domain": [88.18, 97.88], "nice": false, "zero": false}, "axis": null}, "text": {"field": "label"}}
        },
        {
          "data": {"name": "leg"},
          "mark": {"type": "text", "align": "left", "font": "DejaVu Sans", "fontSize": 10},
          "encoding": {
            "x": {"field": "t", "type": "quantitative", "axis": null},
            "y": {"field": "p", "type": "quantitative", "scale": {"domain": [88.18, 97.88], "nice": false, "zero": false},
              "axis": {"orient": "right", "values": [88.5,88.75,89,89.25,89.5,89.75,90,90.25,90.5,90.75,91,91.25,91.5,91.75,92,92.25,92.5,92.75,93,93.25,93.5,93.75,94,94.25,94.5,94.75,95,95.25,95.5,95.75,96,96.25,96.5,96.75,97,97.25,97.5,97.75], "format": ".2f", "grid": true, "gridColor": "rgba(150,120,75,0.22)", "ticks": true, "tickSize": 3, "tickColor": "#777777", "domain": false, "labelPadding": 2, "labelOverlap": false}},
            "text": {"field": "text"},
            "color": {"field": "s", "type": "nominal", "scale": {"domain": ["px", "ma20", "ema50", "ma200", "ema10", "bb", "vol"], "range": ["#000000", "#000080", "#dc143c", "#ff00ff", "#006400", "#8a8a8a", "#444444"]}, "legend": null}
          }
        },
        {
          "data": {"name": "annBox"},
          "mark": {"type": "point", "shape": "M-1,-0.306L1,-0.306L1,0.306L-0.755,0.306L-1.384,0.76L-0.913,0.306L-1,0.306Z", "size": 52441, "filled": true, "fill": "#8a8a8a", "opacity": 0.5, "strokeWidth": 0, "xOffset": 3, "yOffset": 3},
          "encoding": {"x": {"field": "t", "type": "quantitative", "axis": null}, "y": {"field": "p", "type": "quantitative", "scale": {"domain": [88.18, 97.88], "nice": false, "zero": false}, "axis": null}}
        },
        {
          "data": {"name": "annBox"},
          "mark": {"type": "point", "shape": "M-1,-0.306L1,-0.306L1,0.306L-0.755,0.306L-1.384,0.76L-0.913,0.306L-1,0.306Z", "size": 52441, "filled": true, "fill": "#ffffff", "stroke": "#9a9a9a", "strokeWidth": 1, "opacity": 1},
          "encoding": {"x": {"field": "t", "type": "quantitative", "axis": null}, "y": {"field": "p", "type": "quantitative", "scale": {"domain": [88.18, 97.88], "nice": false, "zero": false}, "axis": null}}
        },
        {
          "data": {"name": "annText"},
          "mark": {"type": "text", "align": "left", "baseline": "top", "lineHeight": 13, "font": "Liberation Sans", "fontSize": 11, "fontWeight": "bold", "color": "#1010d0"},
          "encoding": {"x": {"field": "t", "type": "quantitative", "axis": null}, "y": {"field": "p", "type": "quantitative", "scale": {"domain": [88.18, 97.88], "nice": false, "zero": false}, "axis": null}, "text": {"field": "lines"}}
        }
      ]
    },
    {
      "width": 1280, "height": 15,
      "view": {"fill": "#ffffff", "stroke": "#b59a9a", "strokeDash": [1, 2]},
      "data": {"values": []},
      "mark": "point",
      "encoding": {
        "x": {"field": "t", "type": "quantitative", "scale": {"domain": [-1, 255], "nice": false, "zero": false},
          "axis": {"orient": "bottom", "offset": -14, "values": [0,5,10,15,20,26,30,35,40,46,49,55,60,65,70,75,80,85,92,95,100,105,110,116,120,125,130,135,140,145,150,155,158,165,170,175,180,185,190,195,201,205,210,215,220,224,230,235,240,244,250],
            "labelExpr": "['26','Apr','9','16','23','May','7','14','21','29','Jun','11','18','25','Jul','9','16','23','Aug','6','13','20','27','Sep','10','17','24','Oct','8','15','22','29','Nov','12','19','26','Dec','10','17','24','2019','7','14','21','28','Feb','11','18','25','Mar','11'][indexof([0,5,10,15,20,26,30,35,40,46,49,55,60,65,70,75,80,85,92,95,100,105,110,116,120,125,130,135,140,145,150,155,158,165,170,175,180,185,190,195,201,205,210,215,220,224,230,235,240,244,250], datum.value)]",
            "labelFontWeight": {"condition": {"test": "indexof([5,26,49,70,92,116,135,158,180,201,224,244], datum.value) >= 0", "value": "bold"}, "value": "normal"},
            "labelFontSize": 10.5, "grid": false, "ticks": false, "domain": false, "labelPadding": 1, "labelOverlap": false, "labelFlush": false, "labelBound": false}}
      }
    },
    {
      "width": 1280, "height": 179,
      "view": {"fill": {"gradient": "linear", "x1": 0, "y1": 0, "x2": 0, "y2": 1, "stops": [{"offset": 0, "color": "#e2c89a"}, {"offset": 1, "color": "#cea676"}]}},
      "resolve": {"scale": {"y": "independent"}},
      "layer": [
        {
          "data": {"name": "hist"},
          "mark": {"type": "bar", "size": 4.4, "fill": "#4c97c5", "stroke": "#2a6890", "strokeWidth": 0.5, "clip": true},
          "encoding": {
            "x": {"field": "t", "type": "quantitative", "scale": {"domain": [-1, 255], "nice": false, "zero": false},
              "axis": {"values": [0,5,10,15,20,26,30,35,40,46,49,55,60,65,70,75,80,85,92,95,100,105,110,116,120,125,130,135,140,145,150,155,158,165,170,175,180,185,190,195,201,205,210,215,220,224,230,235,240,244,250], "labels": false, "ticks": false, "domain": false, "grid": true,
                "gridColor": {"condition": {"test": "indexof([5,26,49,70,92,116,135,158,180,201,224,244], datum.value) >= 0", "value": "rgba(110,85,50,0.40)"}, "value": "rgba(140,110,70,0.22)"}}},
            "y": {"field": "v", "type": "quantitative", "scale": {"domain": [-0.4, 0.937], "nice": false, "zero": false}, "axis": null},
            "y2": {"datum": 0}
          }
        },
        {
          "data": {"name": "sig"},
          "mark": {"type": "line", "color": "#ff1a1a", "strokeWidth": 1.2, "clip": true},
          "encoding": {"x": {"field": "t", "type": "quantitative", "axis": null}, "y": {"field": "v", "type": "quantitative", "scale": {"domain": [-0.4, 0.937], "nice": false, "zero": false}, "axis": null}}
        },
        {
          "data": {"name": "macd"},
          "mark": {"type": "line", "color": "#000000", "strokeWidth": 1.8, "clip": true},
          "encoding": {"x": {"field": "t", "type": "quantitative", "axis": null}, "y": {"field": "v", "type": "quantitative", "scale": {"domain": [-0.4, 0.937], "nice": false, "zero": false}, "axis": null}}
        },
        {
          "data": {"name": "plab"},
          "transform": [{"filter": "datum.panel == 'macd'"}],
          "mark": {"type": "text", "align": "left", "font": "DejaVu Sans", "fontSize": 11},
          "encoding": {
            "x": {"field": "t", "type": "quantitative", "axis": null},
            "y": {"field": "v", "type": "quantitative", "scale": {"domain": [-0.4, 0.937], "nice": false, "zero": false},
              "axis": {"orient": "right", "values": [-0.4,-0.3,-0.2,-0.1,0,0.1,0.2,0.3,0.4,0.5,0.6,0.7,0.8,0.9], "format": ".2f", "grid": true, "gridColor": "rgba(140,110,70,0.22)", "ticks": true, "tickSize": 3, "tickColor": "#777777", "domain": false, "labelPadding": 2, "labelOverlap": false}},
            "text": {"field": "text"},
            "color": {"field": "s", "type": "nominal", "scale": {"domain": ["black", "red", "blue", "icon"], "range": ["#000000", "#ff0000", "#3d8fd0", "#55742f"]}, "legend": null}
          }
        }
      ]
    },
    {
      "width": 1280, "height": 16,
      "view": {"fill": "#ffffff", "stroke": "#b59a9a", "strokeDash": [1, 2]},
      "data": {"values": []},
      "mark": "point",
      "encoding": {
        "x": {"field": "t", "type": "quantitative", "scale": {"domain": [-1, 255], "nice": false, "zero": false},
          "axis": {"orient": "bottom", "offset": -15, "values": [0,5,10,15,20,26,30,35,40,46,49,55,60,65,70,75,80,85,92,95,100,105,110,116,120,125,130,135,140,145,150,155,158,165,170,175,180,185,190,195,201,205,210,215,220,224,230,235,240,244,250],
            "labelExpr": "['26','Apr','9','16','23','May','7','14','21','29','Jun','11','18','25','Jul','9','16','23','Aug','6','13','20','27','Sep','10','17','24','Oct','8','15','22','29','Nov','12','19','26','Dec','10','17','24','2019','7','14','21','28','Feb','11','18','25','Mar','11'][indexof([0,5,10,15,20,26,30,35,40,46,49,55,60,65,70,75,80,85,92,95,100,105,110,116,120,125,130,135,140,145,150,155,158,165,170,175,180,185,190,195,201,205,210,215,220,224,230,235,240,244,250], datum.value)]",
            "labelFontWeight": {"condition": {"test": "indexof([5,26,49,70,92,116,135,158,180,201,224,244], datum.value) >= 0", "value": "bold"}, "value": "normal"},
            "labelFontSize": 10.5, "grid": false, "ticks": false, "domain": false, "labelPadding": 1, "labelOverlap": false, "labelFlush": false, "labelBound": false}}
      }
    }
  ]
}
